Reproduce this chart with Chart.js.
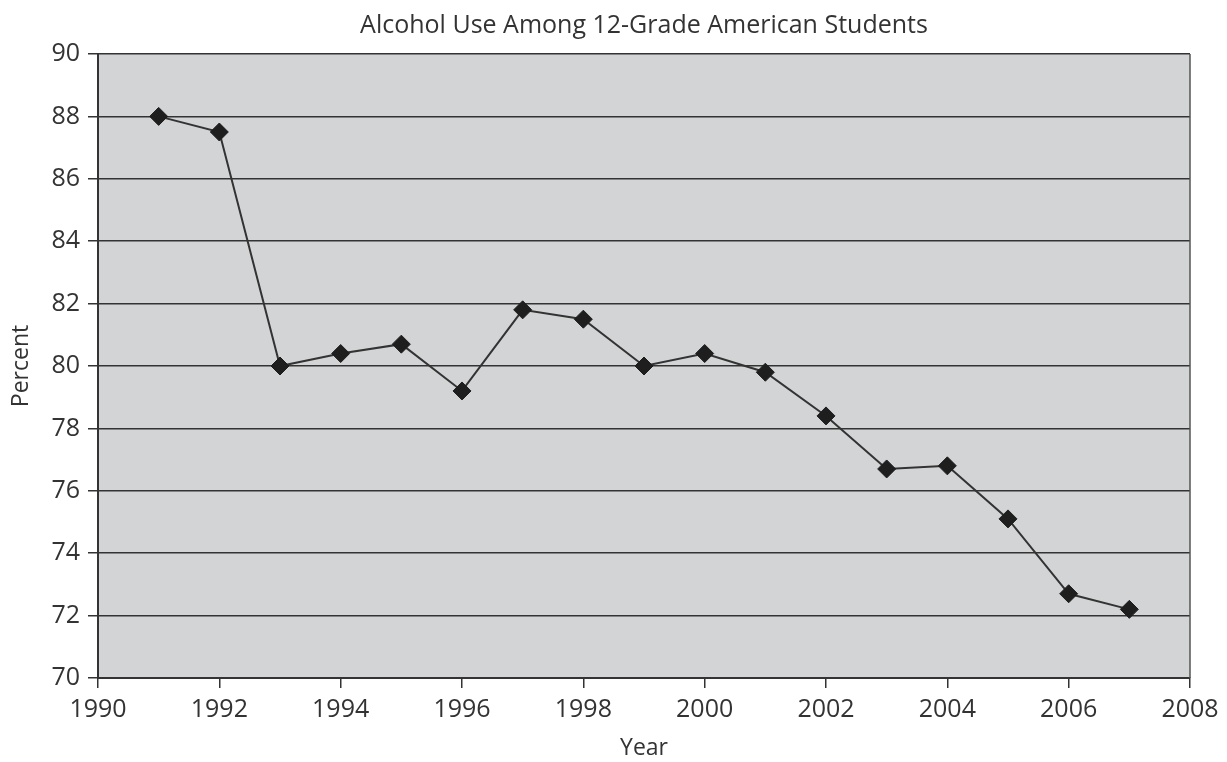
<!DOCTYPE html>
<html>
<head>
<meta charset="utf-8">
<script src="https://cdn.jsdelivr.net/npm/chart.js@4/dist/chart.umd.min.js"></script>
<style>
html,body{margin:0;padding:0;background:#fff;}
#wrap{width:1227px;height:762px;position:relative;}
</style>
</head>
<body>
<div id="wrap"><canvas id="c" width="1227" height="762"></canvas></div>
<script>
const chartTitle = 'Alcohol Use Among 12-Grade American Students';
const xAxisTitle = 'Year';
const yAxisTitle = 'Percent';
const years = [1991,1992,1993,1994,1995,1996,1997,1998,1999,2000,2001,2002,2003,2004,2005,2006,2007];
const percent = [88.0,87.5,80.0,80.4,80.7,79.2,81.8,81.5,80.0,80.4,79.8,78.4,76.7,76.8,75.1,72.7,72.2];
const xRange = [1990, 2008, 2];
const yRange = [70, 90, 2];

const points = years.map((y, i) => ({x: y, y: percent[i]}));
const FONT = "'Open Sans', 'Noto Sans', sans-serif";
const TXT = '#333';

const bgPlugin = {
  id: 'plotBg',
  beforeDraw(chart) {
    const {ctx, chartArea: a} = chart;
    ctx.save();
    ctx.fillStyle = '#d3d4d6';
    ctx.fillRect(a.left, a.top, a.right - a.left, a.bottom - a.top);
    ctx.restore();
  },
  afterDatasetsDraw(chart) {
    const {ctx, chartArea: a} = chart;
    ctx.save();
    ctx.strokeStyle = '#555';
    ctx.lineWidth = 1.5;
    ctx.beginPath();
    ctx.moveTo(a.right, a.top);
    ctx.lineTo(a.right, a.bottom);
    ctx.stroke();
    ctx.restore();
  }
};

new Chart(document.getElementById('c'), {
  type: 'line',
  data: {
    datasets: [{
      data: points,
      borderColor: '#333',
      borderWidth: 2,
      pointStyle: 'rectRot',
      pointRadius: 9,
      pointBackgroundColor: '#1e1e1e',
      pointBorderColor: '#1e1e1e',
      pointBorderWidth: 1,
      tension: 0,
      fill: false
    }]
  },
  options: {
    responsive: false,
    animation: false,
    layout: {padding: {left: 0, right: 37, top: 0, bottom: 0}},
    plugins: {
      legend: {display: false},
      tooltip: {enabled: false},
      title: {
        display: true,
        text: chartTitle,
        fullSize: false,
        color: TXT,
        font: {family: FONT, size: 25, weight: 'normal'},
        padding: {top: 11, bottom: 13}
      }
    },
    scales: {
      x: {
        type: 'linear',
        min: xRange[0], max: xRange[1],
        afterFit(s) { s.height = 84; },
        ticks: {stepSize: xRange[2], color: TXT, font: {family: FONT, size: 25}, padding: 7,
                callback: v => String(v), maxRotation: 0, autoSkip: false},
        grid: {drawOnChartArea: false, drawTicks: true, tickLength: 10, color: '#333', lineWidth: 1.5},
        border: {color: '#333', width: 2},
        title: {display: true, text: xAxisTitle, color: TXT, font: {family: FONT, size: 23}, padding: {top: 4, bottom: 0}}
      },
      y: {
        min: yRange[0], max: yRange[1],
        afterFit(s) { s.width = 98; },
        ticks: {stepSize: yRange[2], color: TXT, font: {family: FONT, size: 25}, padding: 8},
        grid: {drawOnChartArea: true, drawTicks: true, tickLength: 10, color: '#333', lineWidth: 1.5},
        border: {color: '#333', width: 2},
        title: {display: true, text: yAxisTitle, color: TXT, font: {family: FONT, size: 23}, padding: {top: 8, bottom: 0}}
      }
    }
  },
  plugins: [bgPlugin]
});
</script>
</body>
</html>
